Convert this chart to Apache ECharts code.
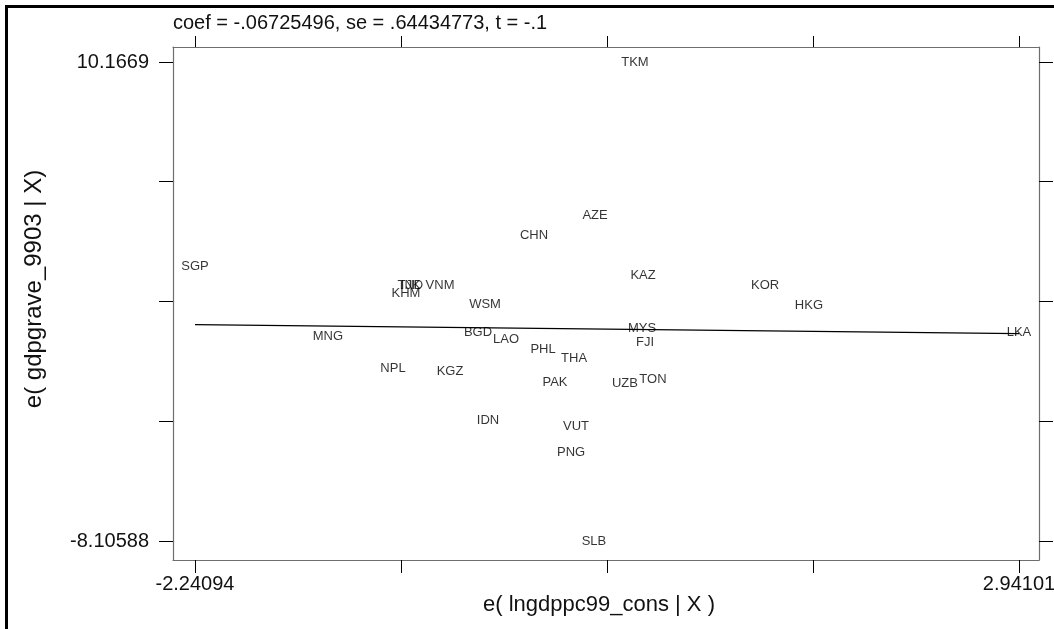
<!DOCTYPE html>
<html>
<head>
<meta charset="utf-8">
<script src="https://cdn.jsdelivr.net/npm/echarts@6.0.0/dist/echarts.min.js"></script>
<style>
html,body{margin:0;padding:0;background:#fff;}
#chart{width:1054px;height:629px;}
</style>
</head>
<body>
<div id="chart"></div>
<script>
// ---- data ----
const countries = ['TKM','AZE','CHN','SGP','KAZ','KOR','TJK','IND','VNM','KHM','HKG','WSM','MYS','LKA','BGD','MNG','LAO','FJI','PHL','THA','NPL','KGZ','PAK','UZB','TON','IDN','VUT','PNG','SLB'];
const residX = [0.526,0.275,-0.109,-2.24094,0.577,1.344,-0.895,-0.876,-0.700,-0.914,1.620,-0.417,0.570,2.94101,-0.461,-1.405,-0.285,0.589,-0.052,0.143,-0.996,-0.637,0.023,0.463,0.639,-0.398,0.155,0.124,0.268];
const residY = [10.1669,4.330,3.567,2.385,2.041,1.660,1.660,1.640,1.660,1.355,0.897,0.935,0.020,-0.133,-0.133,-0.286,-0.400,-0.514,-0.781,-1.125,-1.506,-1.621,-2.040,-2.079,-1.926,-3.490,-3.719,-4.711,-8.10588];
const coef = -0.06725496;
const titleText = 'coef = -.06725496, se = .64434773, t = -.1';
const xTickLabels = ['-2.24094','2.94101'];
const yTickLabels = ['-8.10588','10.1669'];
const xTicks = [-2.24094,-0.945453,0.350035,1.64552,2.94101];
const yTicks = [-8.10588,-3.537685,1.03051,5.598705,10.1669];
const xTitle = 'e( lngdppc99_cons | X )';
const yTitle = 'e( gdpgrave_9903 | X)';

const points = countries.map((c,i)=>({name:c,value:[residX[i],residY[i]]}));
const xMinD = Math.min(...residX), xMaxD = Math.max(...residX);
const fitLine = [[xMinD, coef*xMinD],[xMaxD, coef*xMaxD]];

const FONT = '"Liberation Sans", Arial, Helvetica, sans-serif';
const frameColor = '#6e6e6e';
function fmt(list){return function(v){
  for(const s of list){ if(Math.abs(parseFloat(s)-v)<1e-6) return s; }
  return '';
};}

const xRange = {min:-2.3793, max:3.0668};
const yRange = {min:-8.8308, max:10.7391};

const chart = echarts.init(document.getElementById('chart'), null, {renderer:'canvas'});
chart.setOption({
  animation:false,
  backgroundColor:'#ffffff',
  grid:{left:173,right:15,top:47,bottom:69,containLabel:false,outerBoundsMode:'none'},
  xAxis:[
    {type:'value',position:'bottom',min:xRange.min,max:xRange.max,
     axisLine:{show:true,onZero:false,lineStyle:{color:frameColor,width:1.2}},
     axisTick:{show:true,length:13,customValues:xTicks,lineStyle:{color:'#000',width:1}},
     axisLabel:{show:true,customValues:xTickLabels.map(parseFloat),formatter:fmt(xTickLabels),
       margin:14,fontSize:20,fontFamily:FONT,color:'#111'},
     splitLine:{show:false}},
    {type:'value',position:'top',min:xRange.min,max:xRange.max,
     axisLine:{show:true,onZero:false,lineStyle:{color:frameColor,width:1.2}},
     axisTick:{show:true,length:11,customValues:xTicks,lineStyle:{color:'#000',width:1}},
     axisLabel:{show:false},splitLine:{show:false}}
  ],
  yAxis:[
    {type:'value',position:'left',min:yRange.min,max:yRange.max,
     axisLine:{show:true,onZero:false,lineStyle:{color:frameColor,width:1.2}},
     axisTick:{show:true,length:14,customValues:yTicks,lineStyle:{color:'#000',width:1}},
     axisLabel:{show:true,customValues:yTickLabels.map(parseFloat),formatter:fmt(yTickLabels),
       margin:24,fontSize:20,fontFamily:FONT,color:'#111'},
     splitLine:{show:false}},
    {type:'value',position:'right',min:yRange.min,max:yRange.max,
     axisLine:{show:true,onZero:false,lineStyle:{color:frameColor,width:1.2}},
     axisTick:{show:true,length:14,customValues:yTicks,lineStyle:{color:'#000',width:1}},
     axisLabel:{show:false},splitLine:{show:false}}
  ],
  series:[
    {type:'line',data:fitLine,symbol:'none',silent:true,
     lineStyle:{color:'#000',width:1.2},z:1},
    {type:'scatter',data:points,symbolSize:0.01,itemStyle:{color:'transparent'},
     label:{show:true,position:'inside',offset:[0,-5],formatter:p=>p.name,
       fontSize:13,fontFamily:FONT,color:'#000'},
     labelLayout:{hideOverlap:false},z:3}
  ],
  graphic:[
    {type:'rect',shape:{x:6.5,y:6.5,width:1200,height:800},style:{fill:'none',stroke:'#000',lineWidth:3},silent:true},
    {type:'text',x:173,y:23,style:{text:titleText,fontSize:20,fontFamily:FONT,fill:'#111',textAlign:'left',textVerticalAlign:'middle'}},
    {type:'text',x:599,y:605,style:{text:xTitle,fontSize:22,fontFamily:FONT,fill:'#111',textAlign:'center',textVerticalAlign:'middle'}},
    {type:'text',x:34,y:289,rotation:Math.PI/2,style:{text:yTitle,fontSize:24,fontFamily:FONT,fill:'#111',textAlign:'center',textVerticalAlign:'middle'}}
  ]
});
</script>
</body>
</html>
